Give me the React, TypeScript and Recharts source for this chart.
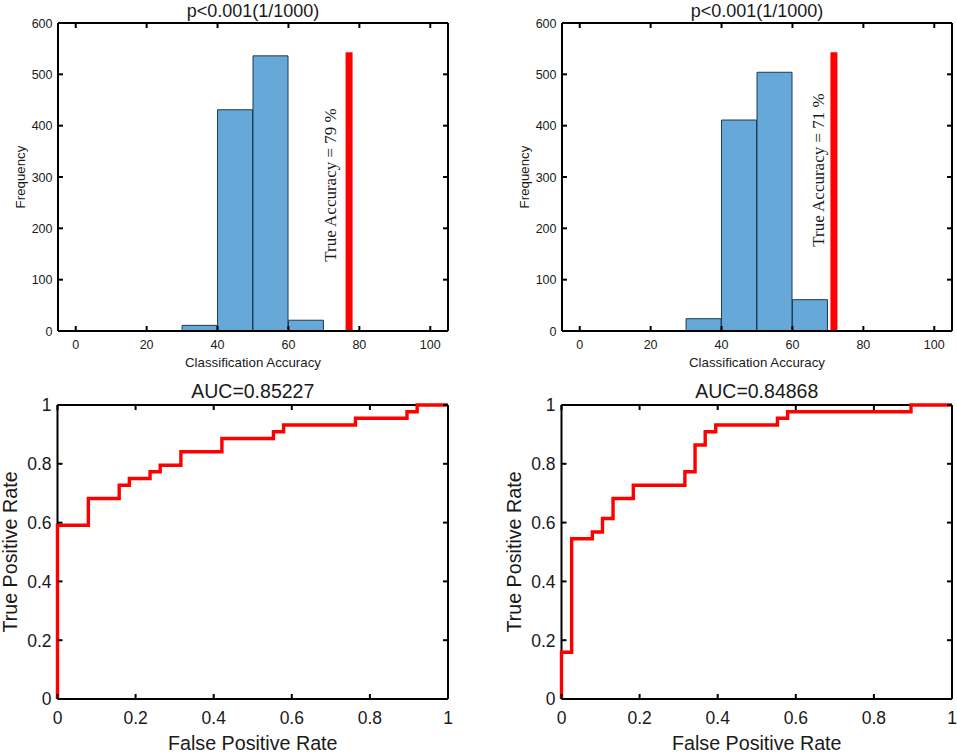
import { Bar, ComposedChart, Label, Line, ReferenceLine, XAxis, YAxis } from "recharts";

const histBins = [35, 45, 55, 65];
const histLeft = [11, 431, 536, 21];
const histRight = [24, 411, 504, 61];
const histXTicks = [0, 20, 40, 60, 80, 100];
const histYTicks = [0, 100, 200, 300, 400, 500, 600];
const trueLeft = 77.1;
const trueRight = 71.7;
const trueTop = 543;

const rocTicks = [0, 0.2, 0.4, 0.6, 0.8, 1];
const rocLeftX = [0, 0, 0.079, 0.158, 0.184, 0.237, 0.263, 0.316, 0.421, 0.553, 0.579, 0.763, 0.895, 0.921, 1];
const rocLeftY = [0, 0.591, 0.682, 0.727, 0.75, 0.773, 0.795, 0.841, 0.886, 0.909, 0.932, 0.955, 0.977, 1, 1];
const rocRightX = [0, 0, 0.026, 0.079, 0.105, 0.132, 0.184, 0.316, 0.342, 0.368, 0.395, 0.553, 0.579, 0.895, 1];
const rocRightY = [0, 0.159, 0.545, 0.568, 0.614, 0.682, 0.727, 0.773, 0.864, 0.909, 0.932, 0.955, 0.977, 1, 1];

const SANS = "'Liberation Sans', Arial, sans-serif";
const INK = "#1a1a1a";
const TICK_LEN = 5;
const frame = { stroke: "#000", strokeWidth: 2 };

// inward MATLAB style ticks, the label (if any) sits outside the box
function bottomTick(fontSize: number, gap: number) {
  return ({ x, y, payload }: any) => (
    <g>
      <line x1={x} x2={x} y1={y} y2={y - TICK_LEN} stroke="#000" strokeWidth={2} />
      <text x={x} y={y + gap} textAnchor="middle" fontSize={fontSize} fontFamily={SANS} fill={INK}>{payload.value}</text>
    </g>
  );
}

function leftTick(fontSize: number, gap: number) {
  return ({ x, y, payload }: any) => (
    <g>
      <line x1={x} x2={x + TICK_LEN} y1={y} y2={y} stroke="#000" strokeWidth={2} />
      <text x={x - gap} y={y} dy="0.36em" textAnchor="end" fontSize={fontSize} fontFamily={SANS} fill={INK}>{payload.value}</text>
    </g>
  );
}

const topTick = ({ x, y }: any) => <line x1={x} x2={x} y1={y} y2={y + TICK_LEN} stroke="#000" strokeWidth={2} />;
const rightTick = ({ x, y }: any) => <line x1={x} x2={x - TICK_LEN} y1={y} y2={y} stroke="#000" strokeWidth={2} />;

type HistProps = {
  left: number;
  width: number;
  marginLeft: number;
  values: number[];
  trueValue: number;
  trueLabel: string;
  labelX: number;
  labelY: number;
};

// axes are 1px thick so they still render, margins give the rest of the room
function HistPanel({ left, width, marginLeft, values, trueValue, trueLabel, labelX, labelY }: HistProps) {
  const data = histBins.map((bin, i) => ({ bin, count: values[i] }));
  const titleStyle = { fontSize: 18, fontFamily: SANS, fill: INK };
  const nameStyle = { fontSize: 13.3, fontFamily: SANS, fill: INK };
  return (
    <div style={{ position: "absolute", left, top: 0 }}>
      <ComposedChart
        width={width}
        height={378}
        data={data}
        barCategoryGap={0}
        barGap={0}
        margin={{ top: 22, left: marginLeft - 1, right: width - marginLeft - 391, bottom: 46 }}
      >
        <XAxis dataKey="bin" type="number" domain={[-5, 105]} ticks={histXTicks} interval={0} height={1}
          tickSize={0} tickMargin={0} tick={bottomTick(12.5, 17.5)} tickLine={false} axisLine={frame}>
          <Label value="Classification Accuracy" position="center" dy={31} style={nameStyle} />
        </XAxis>
        <XAxis xAxisId="top" dataKey="bin" orientation="top" type="number" domain={[-5, 105]} ticks={histXTicks} interval={0} height={1}
          tickSize={0} tickMargin={0} tick={topTick} tickLine={false} axisLine={frame}>
          <Label value="p<0.001(1/1000)" position="center" dy={-12} style={titleStyle} />
        </XAxis>
        <YAxis type="number" domain={[0, 600]} ticks={histYTicks} interval={0} width={1}
          tickSize={0} tickMargin={0} tick={leftTick(12.5, 5.5)} tickLine={false} axisLine={frame}>
          <Label value="Frequency" position="center" angle={-90} dx={-37} style={nameStyle} />
        </YAxis>
        <YAxis yAxisId="right" dataKey="count" orientation="right" type="number" domain={[0, 600]} ticks={histYTicks} interval={0} width={1}
          tickSize={0} tickMargin={0} tick={rightTick} tickLine={false} axisLine={frame} />
        <Bar dataKey="count" fill="#66a9d9" stroke="#1d3b54" strokeWidth={1} isAnimationActive={false} />
        <ReferenceLine segment={[{ x: trueValue, y: 0 }, { x: trueValue, y: trueTop }]} stroke="#ff0000" strokeWidth={7} ifOverflow="visible" />
        <text
          x={labelX}
          y={labelY}
          transform={`rotate(-90 ${labelX} ${labelY})`}
          textAnchor="middle"
          dominantBaseline="central"
          fontSize={17}
          fontFamily="'Liberation Serif', 'Times New Roman', serif"
          fill={INK}
        >
          {trueLabel}
        </text>
      </ComposedChart>
    </div>
  );
}

type RocProps = {
  left: number;
  width: number;
  marginLeft: number;
  fpr: number[];
  tpr: number[];
  title: string;
};

function RocPanel({ left, width, marginLeft, fpr, tpr, title }: RocProps) {
  const data = fpr.map((x, i) => ({ x, y: tpr[i] }));
  const titleStyle = { fontSize: 19.5, fontFamily: SANS, fill: INK };
  const nameStyle = { fontSize: 19.7, fontFamily: SANS, fill: INK };
  return (
    <div style={{ position: "absolute", left, top: 380 }}>
      <ComposedChart
        width={width}
        height={373}
        data={data}
        margin={{ top: 24, left: marginLeft - 1, right: width - marginLeft - 391.5, bottom: 53 }}
      >
        <XAxis dataKey="x" type="number" domain={[0, 1]} ticks={rocTicks} interval={0} height={1}
          tickSize={0} tickMargin={0} tick={bottomTick(17.5, 25)} tickLine={false} axisLine={frame}>
          <Label value="False Positive Rate" position="center" dy={44} style={nameStyle} />
        </XAxis>
        <XAxis xAxisId="top" dataKey="x" orientation="top" type="number" domain={[0, 1]} ticks={rocTicks} interval={0} height={1}
          tickSize={0} tickMargin={0} tick={topTick} tickLine={false} axisLine={frame}>
          <Label value={title} position="center" dy={-13} style={titleStyle} />
        </XAxis>
        <YAxis type="number" domain={[0, 1]} ticks={rocTicks} interval={0} width={1}
          tickSize={0} tickMargin={0} tick={leftTick(17.5, 6)} tickLine={false} axisLine={frame}>
          <Label value="True Positive Rate" position="center" angle={-90} dx={-47} style={nameStyle} />
        </YAxis>
        <YAxis yAxisId="right" dataKey="y" orientation="right" type="number" domain={[0, 1]} ticks={rocTicks} interval={0} width={1}
          tickSize={0} tickMargin={0} tick={rightTick} tickLine={false} axisLine={frame} />
        <Line dataKey="y" type="stepAfter" stroke="#ff0000" strokeWidth={3.4} dot={false} isAnimationActive={false} zIndex={700} />
      </ComposedChart>
    </div>
  );
}

export default function App() {
  return (
    <div style={{ position: "absolute", left: 0, top: 0, width: 957, height: 753, background: "#fff" }}>
      <HistPanel left={0} width={478} marginLeft={58} values={histLeft} trueValue={trueLeft} trueLabel="True Accuracy = 79 %" labelX={330} labelY={185} />
      <HistPanel left={480} width={477} marginLeft={82} values={histRight} trueValue={trueRight} trueLabel="True Accuracy = 71 %" labelX={338} labelY={170} />
      <RocPanel left={0} width={478} marginLeft={57.5} fpr={rocLeftX} tpr={rocLeftY} title="AUC=0.85227" />
      <RocPanel left={480} width={477} marginLeft={81.5} fpr={rocRightX} tpr={rocRightY} title="AUC=0.84868" />
    </div>
  );
}
